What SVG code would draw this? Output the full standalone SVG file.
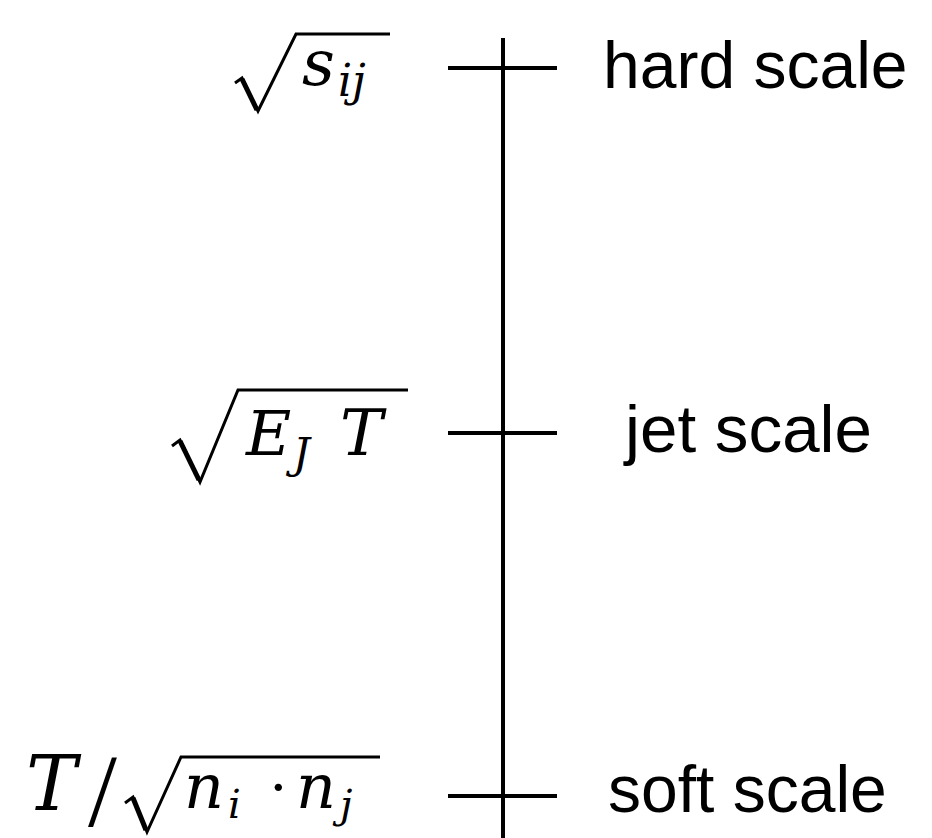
<svg xmlns="http://www.w3.org/2000/svg" width="932" height="838" viewBox="0 0 932 838">
<style>
.lbl{font-family:"Liberation Sans",Arial,sans-serif;font-size:66px;fill:#000}
.m{font-family:"DejaVu Serif","Liberation Serif",serif;font-style:italic;fill:#000}
.up{font-family:"Liberation Serif","DejaVu Serif",serif;fill:#000}
.rad{fill:none;stroke:#000;stroke-width:3;stroke-linejoin:miter}
.radh{fill:none;stroke:#000;stroke-width:5;stroke-linecap:butt}
.ax{stroke:#000;stroke-width:4;fill:none}
</style>
<g id="connectors">
<line class="ax" x1="503" y1="38" x2="503" y2="838"/>
<line class="ax" x1="448" y1="68" x2="557" y2="68"/>
<line class="ax" x1="448" y1="433" x2="557" y2="433"/>
<line class="ax" x1="448" y1="796" x2="557" y2="796"/>
</g>
<g id="hard">
<path class="rad" d="M235,83 L242,78 L258,111 L296,34 L390,34"/>
<path class="radh" d="M242,79 L257,110"/>
<text class="m" x="302" y="85" font-size="64">s</text>
<text class="m" x="338" y="96" font-size="44">ij</text>
<text class="lbl" x="603" y="88">hard scale</text>
</g>
<g id="jet">
<path class="rad" d="M172,446 L180,440 L200,482 L238,390 L408,390"/>
<path class="radh" d="M180,441 L199,480"/>
<text class="m" x="246" y="455" font-size="62">E</text>
<text class="m" x="293" y="468" font-size="42">J</text>
<text class="m" x="340" y="455" font-size="64">T</text>
<text class="lbl" x="625" y="452" textLength="247" lengthAdjust="spacingAndGlyphs">jet scale</text>
</g>
<g id="soft">
<text class="m" x="26" y="810" font-size="76">T</text>
<text class="up" x="88" y="826" font-size="104">/</text>
<path class="rad" d="M125,803 L133,797 L147,832 L181,757 L380,757"/>
<path class="radh" d="M133,798 L146,830"/>
<text class="m" x="184" y="808" font-size="62">n</text>
<text class="m" x="228" y="818" font-size="40">i</text>
<text class="up" x="268" y="808" font-size="62">·</text>
<text class="m" x="296" y="808" font-size="62">n</text>
<text class="m" x="340" y="818" font-size="40">j</text>
<text class="lbl" x="608" y="812">soft scale</text>
</g>
</svg>
